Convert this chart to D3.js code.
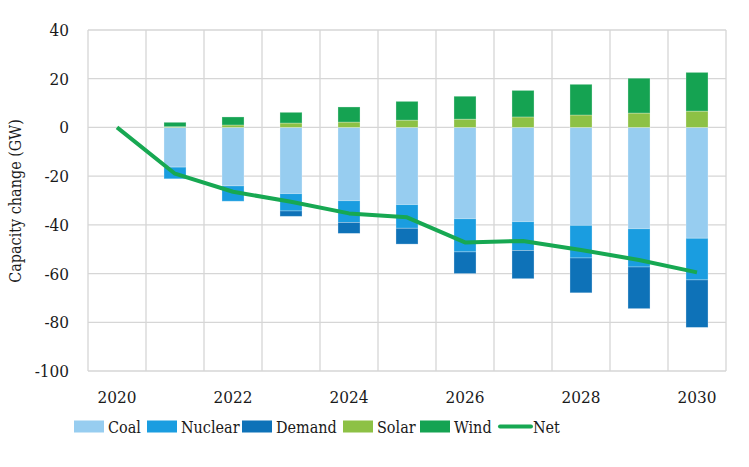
<!DOCTYPE html>
<html>
<head>
<meta charset="utf-8">
<script src="https://cdn.jsdelivr.net/npm/d3@7"></script>
<style>
  body { margin: 0; background: #fff; }
  text { font-family: "DejaVu Serif Condensed", "DejaVu Serif", serif; fill: #1a1a1a; }
</style>
</head>
<body>
<svg width="749" height="467"></svg>
<script>
// Data (GW)
const years = ["2020", "2021", "2022", "2023", "2024", "2025", "2026", "2027", "2028", "2029", "2030"];
const coal    = [0, -16.3, -24.0, -27.2, -30.1, -31.7, -37.5, -38.7, -40.2, -41.6, -45.5];
const nuclear = [0, -4.8, -6.3, -7.1, -8.9, -9.7, -13.6, -11.8, -13.4, -15.7, -17.1];
const demand  = [0, 0, 0, -2.2, -4.5, -6.5, -8.9, -11.6, -14.3, -17.1, -19.5];
const solar   = [0, 0.3, 1.0, 1.8, 2.2, 3.0, 3.4, 4.3, 5.1, 5.9, 6.7];
const wind    = [0, 1.8, 3.3, 4.4, 6.2, 7.7, 9.4, 10.9, 12.6, 14.3, 15.9];
const net     = [0, -19.0, -26.4, -30.5, -35.3, -36.9, -47.2, -46.6, -50.3, -54.4, -59.5];
const yTicks  = [40, 20, 0, -20, -40, -60, -80, -100];
const xLabels = ["2020", "2022", "2024", "2026", "2028", "2030"];

const series = [
    { name: "Coal", values: coal, color: "#97cdf0" },
    { name: "Nuclear", values: nuclear, color: "#1a9de0" },
    { name: "Demand", values: demand, color: "#0e72b8" },
    { name: "Solar", values: solar, color: "#8dc145" },
    { name: "Wind", values: wind, color: "#15a352" }
];
const netColor = "#17a852";

const svg = d3.select("svg");
const margin = { left: 88, right: 23, top: 30, bottom: 96 };
const width = 749, height = 467;

const x = d3.scaleBand().domain(years)
    .range([margin.left, width - margin.right])
    .paddingInner(0.62).paddingOuter(0.31);
const y = d3.scaleLinear().domain([-100, 40]).range([height - margin.bottom, margin.top]);

// Gridlines
const grid = svg.append("g").attr("stroke", "#d6d6d6").attr("stroke-width", 1.3);
grid.selectAll(".h").data(yTicks).enter().append("line")
    .attr("x1", margin.left).attr("x2", width - margin.right)
    .attr("y1", d => y(d)).attr("y2", d => y(d));
const step = x.step();
const bounds = d3.range(years.length + 1).map(i => margin.left + i * step);
grid.selectAll(".v").data(bounds).enter().append("line")
    .attr("x1", d => d).attr("x2", d => d)
    .attr("y1", y(40)).attr("y2", y(-100));

// Stacked bars: negatives stack downward, positives upward
years.forEach((yr, i) => {
    let pos = 0, neg = 0;
    series.forEach(s => {
        const v = s.values[i];
        if (v === 0) return;
        let y0, y1;
        if (v < 0) { y0 = neg; y1 = neg + v; neg = y1; }
        else { y0 = pos; y1 = pos + v; pos = y1; }
        svg.append("rect")
            .attr("x", x(yr))
            .attr("width", x.bandwidth())
            .attr("y", y(Math.max(y0, y1)))
            .attr("height", Math.abs(y(y0) - y(y1)))
            .attr("fill", s.color)
            .attr("stroke", "#ffffff").attr("stroke-opacity", 0.35).attr("stroke-width", 0.8);
    });
});

// Net line
const line = d3.line().x((d, i) => x(years[i]) + x.bandwidth() / 2).y(d => y(d));
svg.append("path").datum(net)
    .attr("d", line)
    .attr("fill", "none")
    .attr("stroke", netColor)
    .attr("stroke-width", 4)
    .attr("stroke-linejoin", "round");

// Y axis labels
svg.append("g").selectAll("text").data(yTicks).enter().append("text")
    .attr("x", 69).attr("y", d => y(d)).attr("dy", "0.35em")
    .attr("text-anchor", "end").attr("font-size", 17)
    .text(d => d);

// X axis labels
svg.append("g").selectAll("text").data(xLabels).enter().append("text")
    .attr("x", d => x(d) + x.bandwidth() / 2).attr("y", 403)
    .attr("text-anchor", "middle").attr("font-size", 17)
    .text(d => d);

// Y axis title
svg.append("text")
    .attr("transform", "translate(21,201) rotate(-90)")
    .attr("text-anchor", "middle").attr("font-size", 16)
    .text("Capacity change (GW)");

// Legend
const legendX = [74, 147, 242, 343, 420];
const lg = svg.append("g");
series.forEach((s, i) => {
    lg.append("rect").attr("x", legendX[i]).attr("y", 420.5).attr("width", 30).attr("height", 12)
        .attr("fill", s.color);
    lg.append("text").attr("x", legendX[i] + 34).attr("y", 433)
        .attr("font-size", 16).text(s.name);
});
lg.append("line").attr("x1", 500).attr("x2", 531).attr("y1", 426.5).attr("y2", 426.5)
    .attr("stroke", netColor).attr("stroke-width", 4).attr("stroke-linecap", "round");
lg.append("text").attr("x", 533).attr("y", 433).attr("font-size", 16).text("Net");
</script>
</body>
</html>
